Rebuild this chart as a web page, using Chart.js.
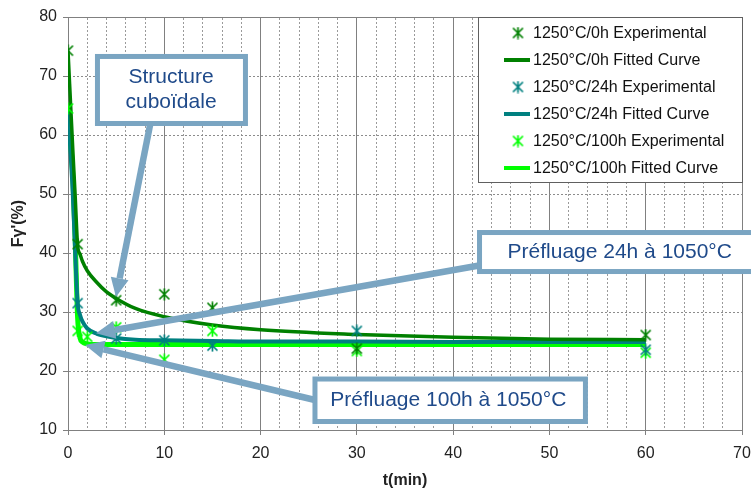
<!DOCTYPE html>
<html>
<head>
<meta charset="utf-8">
<script src="https://cdn.jsdelivr.net/npm/chart.js@4.4.0/dist/chart.umd.min.js"></script>
<style>
  html, body { margin: 0; padding: 0; background: #fff; }
  canvas { display: block; }
</style>
</head>
<body>
<canvas id="chart" width="751" height="491"></canvas>
<script>
// experimental points
const expT0 = [0, 1, 5, 10, 15, 30, 60];
const exp0h = [74.3, 41.5, 32, 33, 30.7, 23.8, 26.1];
const expT24 = [1, 5, 10, 15, 30, 60];
const exp24h = [31.5, 25.5, 25.2, 24.3, 26.8, 23.6];
const expT100 = [0, 1, 2, 5, 10, 15, 30, 60];
const exp100h = [64.5, 26.8, 25.8, 27.4, 21.9, 26.8, 23.4, 23.1];

// fitted curves
const curveT  = [0, 0.5, 0.75, 1, 1.25, 1.5, 2, 3, 4, 5, 7, 10, 15, 20, 30, 40, 50, 60];
const fit0h   = [74.3, 57.5, 49.5, 41.3, 39.8, 38.6, 37, 35, 33.4, 32.3, 30.6, 29.2, 27.8, 27, 26.2, 25.7, 25.4, 25.3];
const fit24h  = [64, 50, 40, 31.5, 29.5, 28.4, 27.2, 26.3, 25.9, 25.6, 25.3, 25.2, 25.1, 25, 25, 24.9, 24.9, 24.9];
const fit100h = [64.5, 53, 42, 29, 25.6, 24.9, 24.6, 24.5, 24.5, 24.5, 24.5, 24.5, 24.5, 24.5, 24.5, 24.5, 24.5, 24.5];

const seriesNames = ['1250°C/0h', '1250°C/24h', '1250°C/100h'];
const seriesColors = ['#008000', '#008080', '#00ff00'];

const FONT = "'Liberation Sans', Arial, sans-serif";
const annColor = '#7aa5c2';
const annText = '#1f4a8a';

const pts = function(xs, ys) {
    let out = [];
    for(let i=0;i<xs.length;i++) out.push({x: xs[i], y: ys[i]});
    return out;
};

const makeStar = function(color) {
    const c = document.createElement('canvas');
    c.width = 13; c.height = 13;
    const g = c.getContext('2d');
    g.strokeStyle = color;
    g.lineWidth = 1.7;
    g.beginPath();
    g.moveTo(1.5, 1.5); g.lineTo(11.5, 11.5);
    g.moveTo(11.5, 1.5); g.lineTo(1.5, 11.5);
    g.moveTo(6.5, 0.5); g.lineTo(6.5, 12.5);
    g.stroke();
    return c;
};

const expDataset = function(i, xs, ys) {
    return {
        label: seriesNames[i] + ' Experimental',
        data: pts(xs, ys),
        showLine: false,
        pointStyle: makeStar(seriesColors[i]),
        pointRadius: 5,
        borderColor: seriesColors[i],
        backgroundColor: seriesColors[i],
        order: 0
    };
};
const fitDataset = function(i, ys, width) {
    return {
        label: seriesNames[i] + ' Fitted Curve',
        data: pts(curveT, ys),
        showLine: true,
        pointRadius: 0,
        borderColor: seriesColors[i],
        backgroundColor: seriesColors[i],
        borderWidth: width,
        cubicInterpolationMode: 'monotone',
        order: i + 1
    };
};

// annotations, in data units
const callouts = [
    { box: [3.06, 73.31, 18.43, 61.95], lines: ['Structure', 'cuboïdale'], text: [10.7, 67.6],
      arrow: [8.52, 61.69, 4.98, 32.54] },
    { box: [42.74, 43.47, 73.5, 36.86], lines: ['Préfluage 24h à 1050°C'], text: [57.3, 40.1],
      arrow: [43.0, 37.97, 2.91, 26.4] },
    { box: [25.65, 18.64, 53.74, 11.44], lines: ['Préfluage 100h à 1050°C'], text: [39.5, 15.1],
      arrow: [25.65, 15.08, 1.77, 24.41] }
];

const drawArrow = function(ctx, x1, y1, x2, y2) {
    const ang = Math.atan2(y2 - y1, x2 - x1);
    const headLen = 19, headW = 9;
    const bx = x2 - headLen * Math.cos(ang), by = y2 - headLen * Math.sin(ang);
    ctx.strokeStyle = annColor;
    ctx.lineWidth = 6.5;
    ctx.beginPath(); ctx.moveTo(x1, y1); ctx.lineTo(bx, by); ctx.stroke();
    ctx.fillStyle = annColor;
    ctx.beginPath();
    ctx.moveTo(x2, y2);
    ctx.lineTo(bx + headW * Math.sin(ang), by - headW * Math.cos(ang));
    ctx.lineTo(bx - headW * Math.sin(ang), by + headW * Math.cos(ang));
    ctx.closePath(); ctx.fill();
};

const calloutPlugin = {
    id: 'callouts',
    afterDatasetsDraw(chart) {
        const {ctx, scales: {x, y}} = chart;
        ctx.save();
        callouts.forEach(function(c) {
            const a = c.arrow;
            drawArrow(ctx, x.getPixelForValue(a[0]), y.getPixelForValue(a[1]), x.getPixelForValue(a[2]), y.getPixelForValue(a[3]));
        });
        callouts.forEach(function(c) {
            const x1 = x.getPixelForValue(c.box[0]), y1 = y.getPixelForValue(c.box[1]);
            const x2 = x.getPixelForValue(c.box[2]), y2 = y.getPixelForValue(c.box[3]);
            ctx.fillStyle = '#fff';
            ctx.fillRect(x1, y1, x2 - x1, y2 - y1);
            ctx.strokeStyle = annColor;
            ctx.lineWidth = 5;
            ctx.strokeRect(x1, y1, x2 - x1, y2 - y1);
            ctx.fillStyle = annText;
            ctx.font = '21px ' + FONT;
            ctx.textAlign = 'center';
            ctx.textBaseline = 'middle';
            const tx = x.getPixelForValue(c.text[0]), ty = y.getPixelForValue(c.text[1]);
            const lh = 25;
            for(let i=0;i<c.lines.length;i++) {
                ctx.fillText(c.lines[i], tx, ty + (i - (c.lines.length - 1) / 2) * lh);
            }
        });
        ctx.restore();
    }
};

const legendPlugin = {
    id: 'boxLegend',
    afterDraw(chart) {
        const {ctx, chartArea} = chart;
        const left = chartArea.right - 264, top = chartArea.top, h = 165;
        ctx.save();
        ctx.fillStyle = '#fff';
        ctx.fillRect(left, top, chartArea.right - left, h);
        ctx.strokeStyle = '#606060';
        ctx.lineWidth = 1;
        ctx.strokeRect(left + 0.5, top + 0.5, chartArea.right - left, h);
        ctx.font = '16px ' + FONT;
        ctx.textAlign = 'left';
        ctx.textBaseline = 'middle';
        chart.data.datasets.forEach(function(ds, i) {
            const cy = top + 16 + i * 27;
            if(ds.showLine) {
                ctx.strokeStyle = ds.borderColor;
                ctx.lineWidth = 4;
                ctx.beginPath(); ctx.moveTo(left + 26, cy); ctx.lineTo(left + 52, cy); ctx.stroke();
            } else {
                const img = ds.pointStyle;
                ctx.drawImage(img, left + 40 - img.width / 2, cy - img.height / 2);
            }
            ctx.fillStyle = '#111';
            ctx.fillText(ds.label, left + 55, cy + 1);
        });
        ctx.restore();
    }
};

const tickFont = { size: 16, family: FONT };
const titleFont = { size: 16, family: FONT, weight: 'bold' };

new Chart(document.getElementById('chart'), {
    type: 'scatter',
    data: {
        datasets: [
            expDataset(0, expT0, exp0h),
            fitDataset(0, fit0h, 3.5),
            expDataset(1, expT24, exp24h),
            fitDataset(1, fit24h, 4),
            expDataset(2, expT100, exp100h),
            fitDataset(2, fit100h, 5)
        ]
    },
    options: {
        responsive: false,
        animation: false,
        layout: { padding: { left: 0, right: 9, top: 17, bottom: 0 } },
        plugins: { legend: { display: false }, tooltip: { enabled: false } },
        scales: {
            x: {
                type: 'linear', position: 'bottom', min: 0, max: 70,
                ticks: { stepSize: 10, padding: 9, color: '#222', font: tickFont },
                grid: { color: '#808080', tickLength: 5, tickColor: '#808080' },
                border: { color: '#808080' },
                title: { display: true, text: 't(min)', color: '#222', font: titleFont, padding: { top: 4, bottom: 1 } },
                afterFit: function(s) { s.height = 61; s.paddingLeft = 0; s.paddingRight = 0; }
            },
            xMinor: {
                type: 'linear', position: 'top', min: 0, max: 70,
                ticks: { display: false, stepSize: 2 },
                grid: {
                    drawTicks: false,
                    color: function(c) { return (c.tick && c.tick.value % 10 === 0) ? 'rgba(0,0,0,0)' : '#9a9a9a'; }
                },
                border: { color: '#808080', dash: [2, 2] },
                afterFit: function(s) { s.height = 0; s.paddingLeft = 0; s.paddingRight = 0; }
            },
            y: {
                min: 10, max: 80,
                ticks: { stepSize: 10, padding: 6, color: '#222', font: tickFont },
                grid: { color: '#8c8c8c', tickLength: 5, tickColor: '#808080' },
                border: { color: '#808080', dash: [2, 2] },
                title: { display: true, text: "Fγ'(%)", color: '#222', font: titleFont, padding: { top: 9, bottom: 0 } },
                afterFit: function(s) { s.width = 68; s.paddingTop = 0; s.paddingBottom = 0; }
            }
        }
    },
    plugins: [calloutPlugin, legendPlugin]
});
</script>
</body>
</html>
